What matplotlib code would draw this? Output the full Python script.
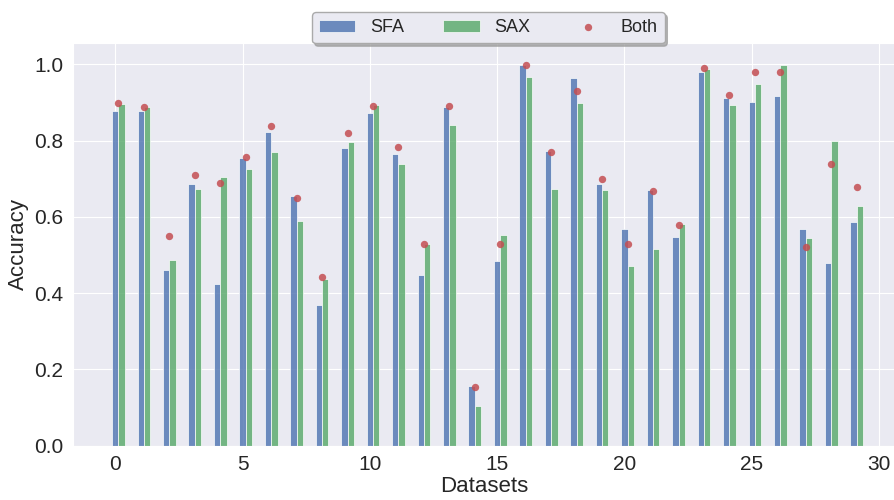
import matplotlib
matplotlib.use('Agg')
import matplotlib.pyplot as plt
import seaborn as sns
import numpy as np

# accuracy per dataset
sfa = [0.878, 0.878, 0.460, 0.685, 0.424, 0.754, 0.822, 0.656, 0.368, 0.780,
       0.872, 0.765, 0.448, 0.888, 0.156, 0.485, 0.997, 0.773, 0.964, 0.686,
       0.568, 0.671, 0.547, 0.981, 0.912, 0.900, 0.917, 0.568, 0.479, 0.586]
sax = [0.896, 0.888, 0.487, 0.674, 0.704, 0.726, 0.769, 0.590, 0.438, 0.796,
       0.893, 0.740, 0.528, 0.840, 0.103, 0.552, 0.968, 0.672, 0.898, 0.670,
       0.471, 0.517, 0.582, 0.987, 0.893, 0.948, 0.997, 0.544, 0.799, 0.628]
both = [0.899, 0.888, 0.551, 0.709, 0.689, 0.758, 0.838, 0.650, 0.443, 0.819,
        0.890, 0.782, 0.528, 0.890, 0.153, 0.530, 0.999, 0.769, 0.929, 0.699,
        0.530, 0.669, 0.580, 0.990, 0.919, 0.979, 0.979, 0.520, 0.740, 0.679]

sns.set_style('darkgrid')
plt.rcParams['font.family'] = ['Liberation Sans', 'DejaVu Sans']
plt.rcParams['text.color'] = '#262626'
plt.rcParams['axes.labelcolor'] = '#262626'
plt.rcParams['xtick.color'] = '#262626'
plt.rcParams['ytick.color'] = '#262626'

x = np.arange(len(sfa))
w = 0.25
pal = sns.color_palette('deep')

fig = plt.figure(figsize=(8.95, 5.0), dpi=100)
ax = fig.add_axes([73.3 / 895, 1 - 445.7 / 500, 1 - 73.3 / 895, (445.7 - 43) / 500])

b1 = ax.bar(x, sfa, width=w, color=pal[0], alpha=0.8, edgecolor='white', linewidth=0.6, label='SFA')
b2 = ax.bar(x + w, sax, width=w, color=pal[2], alpha=0.8, edgecolor='white', linewidth=0.6, label='SAX')
sc = ax.scatter(x + w / 2, both, s=28, color=pal[3], alpha=0.85, linewidths=0, label='Both', zorder=3)

ax.set_xlim(-1.65, 30.63)
ax.set_ylim(0, 1.056)
ax.set_xticks([0, 5, 10, 15, 20, 25, 30])
ax.set_yticks([0.0, 0.2, 0.4, 0.6, 0.8, 1.0])
ax.tick_params(labelsize=15)
ax.set_xlabel('Datasets', fontsize=16, labelpad=1)
ax.set_ylabel('Accuracy', fontsize=16)

leg = ax.legend([b1, b2, sc], ['SFA', 'SAX', 'Both'],
                loc='lower center', bbox_to_anchor=(0.505, 0.999), ncol=3,
                fontsize=13, frameon=True, fancybox=True,
                shadow={'color': '#999999', 'alpha': 0.7},
                columnspacing=2.2, borderaxespad=0)
leg.get_frame().set_facecolor('#EAEAF2')
leg.get_frame().set_edgecolor('#aaaaaa')
leg.get_frame().set_alpha(1)

plt.savefig('out.png', dpi=100)
